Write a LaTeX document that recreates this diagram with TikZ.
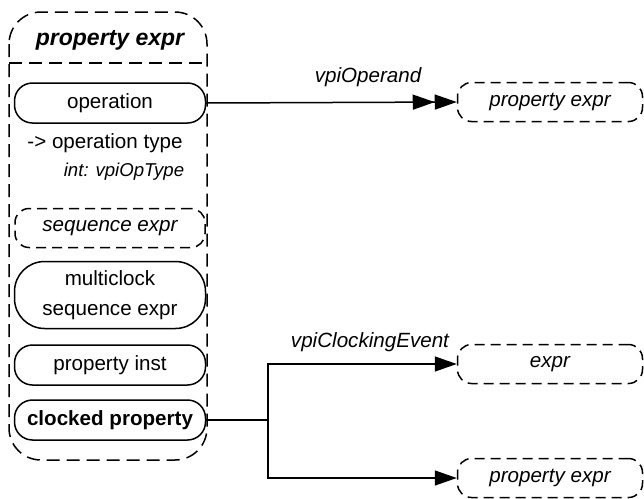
\documentclass[tikz,border=0pt]{standalone}
\usepackage{fontspec}
\setmainfont{Liberation Sans}
\usetikzlibrary{arrows.meta}

\begin{document}
\begin{tikzpicture}[x=0.5pt,y=-0.5pt,line width=0.75pt,
  txt/.style={font=\fontsize{10.3}{15}\selectfont},
  itl/.style={font=\fontsize{10.3}{15}\selectfont\itshape},
  dsh/.style={dash pattern=on 5pt off 3pt},
  obj/.style={draw,txt,rounded corners=9pt,minimum width=95.5pt,minimum height=20pt,inner sep=0pt,align=center},
  ref/.style={draw,dsh,itl,rounded corners=7pt,minimum width=92.5pt,minimum height=19.5pt,inner sep=0pt},
  tip/.style={-{Triangle[length=11pt,width=7.5pt]}}]
\useasboundingbox (0,0) rectangle (644,499);
% class box
\draw[dash pattern=on 6.5pt off 3.5pt,rounded corners=16pt] (9,12) rectangle (207,460);
\draw[dash pattern=on 6.5pt off 3.5pt] (9,63) -- (207,63);
\node[font=\fontsize{11.5}{14}\selectfont\bfseries\itshape] (head) at (110,40) {property expr};
\node[obj] (op) at (110,103) {operation};
\node[txt] (optype) at (105,143) {-> operation type};
\node[font=\fontsize{9.3}{11}\selectfont\itshape] (opint) at (124,172) {int: vpiOpType};
\node[ref,minimum width=95pt] (seq) at (110,228) {sequence expr};
\node[obj,minimum height=33.5pt,rounded corners=15pt] (mseq) at (110,295) {multiclock\\sequence expr};
\node[obj] (pinst) at (110,365) {property inst};
\node[obj,font=\fontsize{10.3}{15}\selectfont\bfseries] (clk) at (110,420) {clocked property};
% targets
\node[ref] (tgt1) at (550,102) {property expr};
\node[ref] (tgt2) at (550,364) {expr};
\node[ref] (tgt3) at (550,478) {property expr};
% relations
\draw[-{Triangle[length=11pt,width=7.5pt]Triangle[length=11pt,width=7.5pt]}] (op.east) -- (tgt1.west);
\node[itl] (lop) at (368,77) {vpiOperand};
\coordinate (br) at (268,420);
\draw (clk.east) -- (br);
\draw[tip] (br) |- (tgt2.west);
\draw[tip] (br) |- (tgt3.west);
\node[itl] (lclk) at (370,342) {vpiClockingEvent};
\end{tikzpicture}
\end{document}
